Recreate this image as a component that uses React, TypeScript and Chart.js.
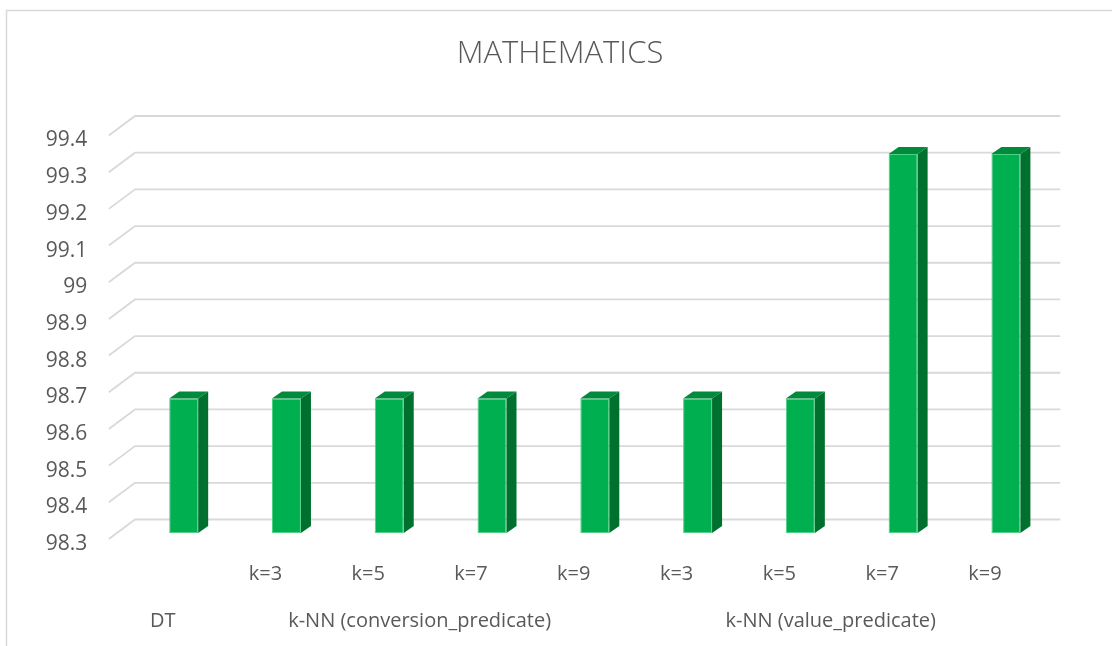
import { useEffect, useRef } from 'react';
import { Chart, registerables } from 'chart.js';

Chart.register(...registerables);

const titleText = 'MATHEMATICS';
const categoryLabels = ['', 'k=3', 'k=5', 'k=7', 'k=9', 'k=3', 'k=5', 'k=7', 'k=9'];
const groupNames = ['DT', 'k-NN (conversion_predicate)', 'k-NN (value_predicate)'];
const groupFirst = [0, 1, 5];
const groupLast = [0, 4, 8];
const accuracy = [98.6667, 98.6667, 98.6667, 98.6667, 98.6667, 98.6667, 98.6667, 99.3333, 99.3333];
const yMin = 98.3;
const yMax = 99.4;
const yStep = 0.1;

const groupCenters = groupFirst.map((f, i) => (f + groupLast[i]) / 2);

const TEXT = '#595959';
const GRID = '#d9d9d9';
const FONT = "'Open Sans', 'Noto Sans', sans-serif";

const framePlugin = {
  id: 'frame',
  beforeDraw(chart: any) {
    const ctx = chart.ctx;
    ctx.save();
    ctx.fillStyle = '#ffffff';
    ctx.fillRect(0, 0, chart.width, chart.height);
    ctx.strokeStyle = GRID;
    ctx.lineWidth = 1.5;
    ctx.strokeRect(6.5, 10.5, chart.width + 50, chart.height + 50);
    ctx.restore();
  },
};

const wallGridPlugin = {
  id: 'wallGrid',
  beforeDatasetsDraw(chart: any) {
    const { ctx, chartArea } = chart;
    const y = chart.scales.y;
    ctx.save();
    ctx.strokeStyle = GRID;
    ctx.lineWidth = 1.8;
    y.ticks.forEach((t: any) => {
      const yf = y.getPixelForValue(t.value);
      ctx.beginPath();
      ctx.moveTo(chartArea.left - 23.5, yf + 6);
      ctx.lineTo(chartArea.left + 2.7, yf - 13.5);
      ctx.lineTo(chartArea.right + 3, yf - 13.5);
      ctx.stroke();
    });
    ctx.restore();
  },
};

const bar3dPlugin = {
  id: 'bar3d',
  afterDatasetsDraw(chart: any) {
    const ctx = chart.ctx;
    const meta = chart.getDatasetMeta(0);
    const dx = 10;
    const dy = 7;
    ctx.save();
    meta.data.forEach((el: any) => {
      const { x, y, base, width } = el.getProps(['x', 'y', 'base', 'width'], true);
      const l = x - width / 2;
      const r = x + width / 2;
      ctx.fillStyle = '#00702f';
      ctx.beginPath();
      ctx.moveTo(r, y);
      ctx.lineTo(r + dx, y - dy);
      ctx.lineTo(r + dx, base - dy);
      ctx.lineTo(r, base);
      ctx.closePath();
      ctx.fill();
      ctx.fillStyle = '#008a3c';
      ctx.beginPath();
      ctx.moveTo(l, y);
      ctx.lineTo(l + dx, y - dy);
      ctx.lineTo(r + dx, y - dy);
      ctx.lineTo(r, y);
      ctx.closePath();
      ctx.fill();
    });
    ctx.restore();
  },
};

export default function App() {
  const ref = useRef<HTMLCanvasElement>(null);

  useEffect(() => {
    if (!ref.current) return;
    const chart = new Chart(ref.current, {
      type: 'bar',
      data: {
        labels: categoryLabels,
        datasets: [
          {
            label: titleText,
            data: accuracy,
            backgroundColor: '#00b050',
            borderColor: '#4fd283',
            borderWidth: 1,
            borderSkipped: false,
            barPercentage: 0.282,
            categoryPercentage: 1,
            base: yMin,
            yAxisID: 'y',
            xAxisID: 'x',
          },
        ],
      },
      options: {
        animation: false,
        responsive: true,
        maintainAspectRatio: false,
        layout: { padding: { left: 8, right: 0, top: 0, bottom: 0 } },
        plugins: {
          legend: { display: false },
          tooltip: { enabled: false },
          title: {
            display: true,
            text: titleText,
            color: TEXT,
            font: { family: FONT, size: 31, weight: '300' as any, lineHeight: 1.2 },
            padding: { top: 35.7, bottom: 56.6 },
          },
        },
        scales: {
          y: {
            position: 'left',
            min: yMin,
            max: yMax,
            grid: { display: false, drawTicks: false },
            border: { display: false },
            ticks: {
              stepSize: yStep,
              color: TEXT,
              font: { family: FONT, size: 21 },
              padding: 45,
              labelOffset: 11,
              callback: (v: any) => String(parseFloat(Number(v).toFixed(1))),
            },
            afterFit: (s: any) => {
              s.width = 124.3;
            },
          },
          yRight: {
            position: 'right',
            display: true,
            grid: { display: false, drawTicks: false },
            border: { display: false },
            ticks: { display: false },
            afterFit: (s: any) => {
              s.width = 54.7;
            },
          },
          x: {
            position: 'bottom',
            grid: { display: false, drawTicks: false },
            border: { display: false },
            ticks: {
              color: TEXT,
              font: { family: FONT, size: 20 },
              padding: 29,
              labelOffset: -21,
              autoSkip: false,
              maxRotation: 0,
              minRotation: 0,
            },
            afterFit: (s: any) => {
              s.height = 62;
            },
          },
          x2: {
            type: 'linear',
            position: 'bottom',
            min: -0.5,
            max: 8.5,
            offset: false,
            grid: { display: false, drawTicks: false, offset: false },
            border: { display: false },
            afterBuildTicks: (s: any) => {
              s.ticks = groupCenters.map((v) => ({ value: v }));
            },
            ticks: {
              color: TEXT,
              font: { family: FONT, size: 20 },
              padding: 14,
              labelOffset: -21,
              autoSkip: false,
              maxRotation: 0,
              minRotation: 0,
              callback: (_v: any, i: number) => groupNames[i],
            },
            afterFit: (s: any) => {
              s.height = 51;
            },
          },
        },
      },
      plugins: [framePlugin, wallGridPlugin, bar3dPlugin],
    });
    return () => chart.destroy();
  }, []);

  return (
    <div style={{ position: 'absolute', left: 0, top: 0, width: 1112, height: 646 }}>
      <canvas ref={ref} />
    </div>
  );
}
